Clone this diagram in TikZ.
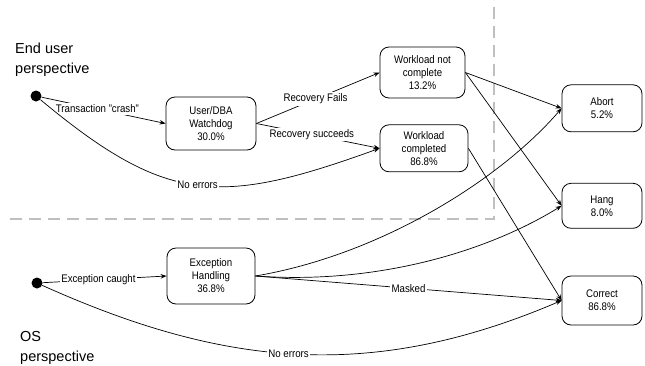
\documentclass[tikz,border=0pt]{standalone}
\usepackage{fontspec}
\setmainfont{Liberation Sans}[FakeStretch=0.88]
\newfontfamily\titlefont{Liberation Sans}
\usetikzlibrary{arrows.meta}

\begin{document}
\begin{tikzpicture}[x=1pt,y=-1pt,
  every node/.style={font=\fontsize{11}{13}\selectfont},
  state/.style={draw, rounded corners=9pt, align=center, inner sep=0pt, line width=0.8pt},
  startdot/.style={circle, fill=black, minimum size=11pt, inner sep=0pt},
  flow/.style={line width=0.7pt, -{Stealth[length=6pt,width=4.5pt]}},
  lbl/.style={fill=white, inner sep=1.5pt},
  divider/.style={draw=black!25, line width=1.3pt, dash pattern=on 12pt off 7pt},
  heading/.style={font=\titlefont\fontsize{14.5}{20}\selectfont, anchor=base west, inner sep=0pt}
]
\useasboundingbox (0,0) rectangle (645,365);

% separation between the two perspectives
\draw[divider] (10,219) -- (494,219) -- (494,0);

% perspective headings
\node[heading] (eu1) at (15,53) {End user};
\node[heading] (eu2) at (15,73) {perspective};
\node[heading] (os1) at (20,341.5) {OS};
\node[heading] (os2) at (20,361.5) {perspective};

% initial states
\node[startdot] (s1) at (36,96) {};
\node[startdot] (s2) at (37,283) {};

% intermediate states
\node[state, minimum width=90pt, minimum height=53pt] (wd) at (211,123.5) {User/DBA\\Watchdog\\30.0\%};
\node[state, minimum width=85pt, minimum height=51pt] (wnc) at (422.5,72.5) {Workload not\\complete\\13.2\%};
\node[state, minimum width=88pt, minimum height=47pt] (wc) at (424,148.3) {Workload\\completed\\86.8\%};
\node[state, minimum width=88pt, minimum height=56pt] (eh) at (211,276) {Exception\\Handling\\36.8\%};

% outcomes
\node[state, minimum width=80pt, minimum height=47pt] (abort) at (602,108.3) {Abort\\5.2\%};
\node[state, minimum width=80pt, minimum height=45pt] (hang) at (602,205.8) {Hang\\8.0\%};
\node[state, minimum width=80pt, minimum height=49pt] (correct) at (602,300.5) {Correct\\86.8\%};

% end user transitions
\draw[flow] (s1) -- node[lbl, pos=0.45] {Transaction "crash"} (wd.west);
\draw[flow] (s1) .. controls (167,205) and (220,206) .. node[lbl, pos=0.5] {No errors} (wc.west);
\draw[flow] (wd.east) -- node[lbl, pos=0.48] {Recovery Fails} (wnc.west);
\draw[flow] (wd.east) -- node[lbl, pos=0.45] {Recovery succeeds} (wc.west);
\draw[flow] (wnc.east) -- (abort.west);
\draw[flow] (wnc.east) -- (hang.west);
\draw[flow] (wc.east) -- (correct.west);

% OS transitions
\draw[flow] (s2) -- node[lbl, pos=0.45] {Exception caught} (eh.west);
\draw[flow] (eh.east) .. controls (380,255) and (500,180) .. (abort.west);
\draw[flow] (eh.east) .. controls (380,285) and (490,250) .. (hang.west);
\draw[flow] (eh.east) -- node[lbl, pos=0.5] {Masked} (correct.west);
\draw[flow] (s2) .. controls (224,367) and (371,382) .. node[lbl, pos=0.48] {No errors} (correct.west);
\end{tikzpicture}
\end{document}
